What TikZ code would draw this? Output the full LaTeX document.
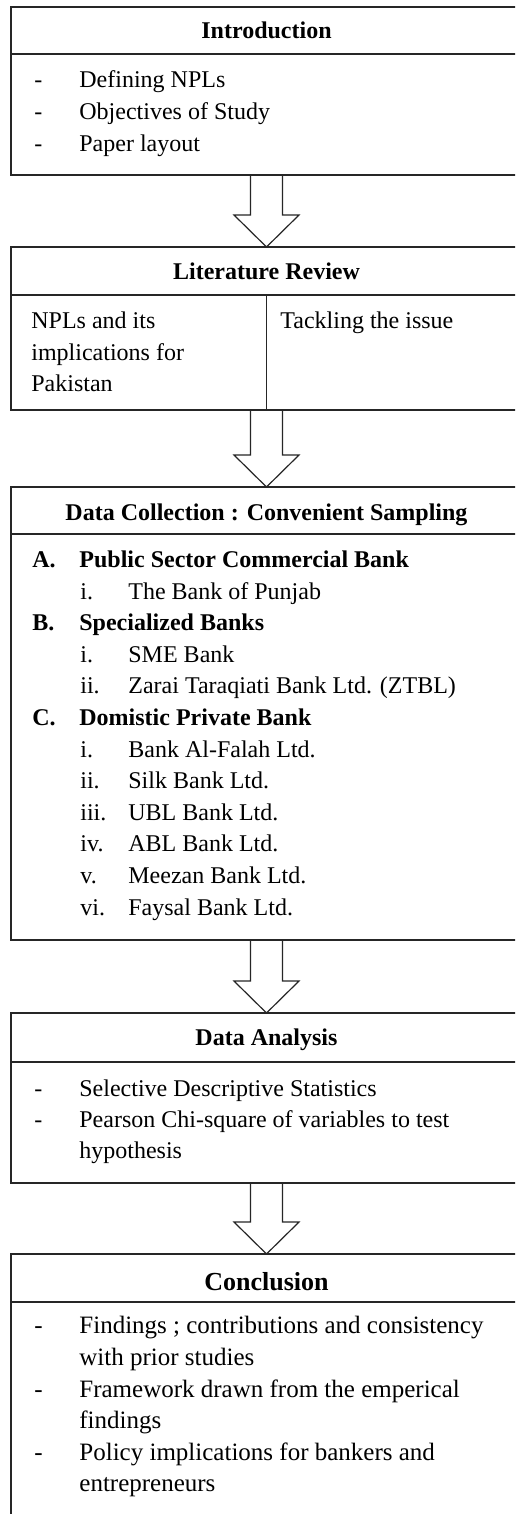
\documentclass[tikz,border=0pt]{standalone}
\usepackage{fontspec}
\setmainfont{Liberation Serif}
\usetikzlibrary{calc}
\tikzset{
  box/.style={draw=black!85, line width=0.6pt, anchor=north west, inner sep=0pt, outer sep=0pt, minimum width=255.5pt},
  sep/.style={draw=black!85, line width=0.6pt},
  barrow/.style={draw=black!85, line width=0.6pt, line join=miter},
  ttl/.style={font=\bfseries\fontsize{12pt}{14pt}\selectfont, anchor=base, inner sep=0pt},
  bigttl/.style={font=\bfseries\fontsize{13pt}{15pt}\selectfont, anchor=base, inner sep=0pt},
  txt/.style={font=\fontsize{12pt}{14pt}\selectfont, anchor=base west, inner sep=0pt},
  btxt/.style={font=\bfseries\fontsize{12pt}{14pt}\selectfont, anchor=base west, inner sep=0pt},
  ctxt/.style={font=\fontsize{12.5pt}{15pt}\selectfont, anchor=base west, inner sep=0pt}
}
\newcommand\myarrow[2]{%
  \coordinate (#1-s) at (cx |- #1.south);
  \coordinate (#1-e) at (cx |- #2.north);
  \draw[barrow] ($(#1-s)+(-16,0)$) -- ($(#1-e)+(-16,-32)$) -- ($(#1-e)+(-32.5,-32)$) -- (#1-e) -- ($(#1-e)+(32.5,-32)$) -- ($(#1-e)+(16,-32)$) -- ($(#1-s)+(16,0)$);
}
\begin{document}
\begin{tikzpicture}[x=0.5pt,y=-0.5pt]
\clip (0,0) rectangle (515,1514);
\fill[white] (0,0) rectangle (515,1514);
\coordinate (cx) at (266.5,0);

% boxes
\node[box, minimum height=84pt] (intro) at (11,7) {};
\node[box, minimum height=81.5pt] (lit) at (11,247) {};
\node[box, minimum height=226.5pt] (dc) at (11,487) {};
\node[box, minimum height=85pt] (da) at (11,1013) {};
\node[box, minimum height=140pt] (con) at (11,1254) {};

% header separators
\draw[sep] (intro.west |- 0,54) -- (intro.east |- 0,54);
\draw[sep] (lit.west |- 0,295) -- (lit.east |- 0,295);
\draw[sep] (cx |- 0,295) -- (cx |- lit.south);
\draw[sep] (dc.west |- 0,534) -- (dc.east |- 0,534);
\draw[sep] (da.west |- 0,1062) -- (da.east |- 0,1062);
\draw[sep] (con.west |- 0,1302) -- (con.east |- 0,1302);

% block arrows
\myarrow{intro}{lit}
\myarrow{lit}{dc}
\myarrow{dc}{da}
\myarrow{da}{con}

% Introduction
\node[ttl] (t1) at (266.5,39) {Introduction};
\node[txt] (i1a) at (34,88) {-};
\node[txt] (i1at) at (79,88) {Defining NPLs};
\node[txt] (i1b) at (34,119.6) {-};
\node[txt] (i1bt) at (79,119.6) {Objectives of Study};
\node[txt] (i1c) at (34,151.2) {-};
\node[txt] (i1ct) at (79,151.2) {Paper layout};

% Literature Review
\node[ttl] (t2) at (266.5,279) {Literature Review};
\node[txt] (l1) at (31,328) {NPLs and its};
\node[txt] (l2) at (31,360) {implications for};
\node[txt] (l3) at (31,391.5) {Pakistan};
\node[txt] (l4) at (280,328) {Tackling the issue};

% Data Collection
\node[ttl] (t3) at (266.5,520.5) {Data Collection : Convenient Sampling};
\node[btxt] (dA) at (32,567.5) {A.};
\node[btxt] (dAt) at (79,567.5) {Public Sector Commercial Bank};
\node[txt] (dA1) at (80,599.1) {i.};
\node[txt] (dA1t) at (128,599.1) {The Bank of Punjab};
\node[btxt] (dB) at (32,630.7) {B.};
\node[btxt] (dBt) at (79,630.7) {Specialized Banks};
\node[txt] (dB1) at (80,662.3) {i.};
\node[txt] (dB1t) at (128,662.3) {SME Bank};
\node[txt] (dB2) at (80,693.9) {ii.};
\node[txt] (dB2t) at (128,693.9) {Zarai Taraqiati Bank Ltd. (ZTBL)};
\node[btxt] (dC) at (32,725.5) {C.};
\node[btxt] (dCt) at (79,725.5) {Domistic Private Bank};
\node[txt] (dC1) at (80,757.1) {i.};
\node[txt] (dC1t) at (128,757.1) {Bank Al-Falah Ltd.};
\node[txt] (dC2) at (80,788.7) {ii.};
\node[txt] (dC2t) at (128,788.7) {Silk Bank Ltd.};
\node[txt] (dC3) at (80,820.3) {iii.};
\node[txt] (dC3t) at (128,820.3) {UBL Bank Ltd.};
\node[txt] (dC4) at (80,851.9) {iv.};
\node[txt] (dC4t) at (128,851.9) {ABL Bank Ltd.};
\node[txt] (dC5) at (80,883.5) {v.};
\node[txt] (dC5t) at (128,883.5) {Meezan Bank Ltd.};
\node[txt] (dC6) at (80,915.1) {vi.};
\node[txt] (dC6t) at (128,915.1) {Faysal Bank Ltd.};

% Data Analysis
\node[ttl] (t4) at (266.5,1045) {Data Analysis};
\node[txt] (a1) at (34,1096) {-};
\node[txt] (a1t) at (79,1096) {Selective Descriptive Statistics};
\node[txt] (a2) at (34,1127) {-};
\node[txt] (a2t) at (79,1127) {Pearson Chi-square of variables to test};
\node[txt] (a3t) at (79,1158) {hypothesis};

% Conclusion
\node[bigttl] (t5) at (266.5,1290) {Conclusion};
\node[ctxt] (c1) at (34,1333) {-};
\node[ctxt] (c1t) at (79,1333) {Findings ; contributions and consistency};
\node[ctxt] (c2t) at (79,1365) {with prior studies};
\node[ctxt] (c3) at (34,1397) {-};
\node[ctxt] (c3t) at (79,1397) {Framework drawn from the emperical};
\node[ctxt] (c4t) at (79,1428) {findings};
\node[ctxt] (c5) at (34,1460) {-};
\node[ctxt] (c5t) at (79,1460) {Policy implications for bankers and};
\node[ctxt] (c6t) at (79,1491) {entrepreneurs};
\end{tikzpicture}
\end{document}
